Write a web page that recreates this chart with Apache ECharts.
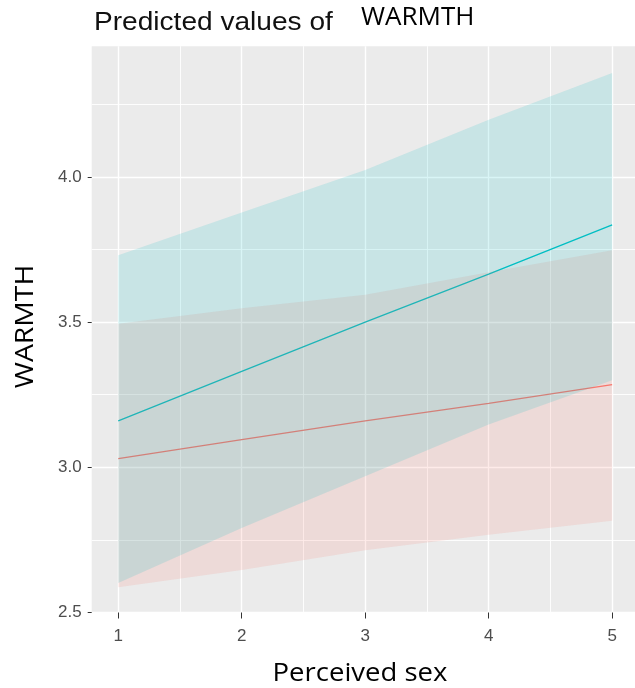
<!DOCTYPE html>
<html>
<head>
<meta charset="utf-8">
<script src="https://cdn.jsdelivr.net/npm/echarts@6/dist/echarts.min.js"></script>
<style>
  html, body { margin: 0; padding: 0; background: #ffffff; }
  #chart { width: 635px; height: 688px; }
</style>
</head>
<body>
<div id="chart"></div>
<script>
// Data
const xValues = [1, 2, 3, 4, 5];

const redFit  = [3.03, 3.095, 3.16, 3.22, 3.285];
const redLow  = [2.587, 2.646, 2.714, 2.768, 2.816];
const redHigh = [3.494, 3.548, 3.594, 3.672, 3.747];

const tealFit  = [3.16, 3.33, 3.50, 3.665, 3.835];
const tealLow  = [2.602, 2.791, 2.969, 3.147, 3.30];
const tealHigh = [3.73, 3.877, 4.024, 4.197, 4.358];

const xTickLabels = [1, 2, 3, 4, 5];
const xMinorBreaks = [1.5, 2.5, 3.5, 4.5];
const yTickLabels = [2.5, 3.0, 3.5, 4.0];
const yMinorBreaks = [2.75, 3.25, 3.75, 4.25];

const chart = echarts.init(document.getElementById('chart'), null, { renderer: 'canvas' });

const X_MIN = 0.785, X_MAX = 5.185;
const Y_MIN = 2.5, Y_MAX = 4.45;

function ribbon(name, low, high, fill, z) {
  return {
    type: 'custom',
    name: name,
    z: z,
    xAxisIndex: 0,
    yAxisIndex: 0,
    data: xValues.map((x, i) => [x, low[i], high[i]]),
    encode: { x: 0, y: [1, 2] },
    silent: true,
    renderItem: function (params, api) {
      if (params.dataIndex !== 0) return null;
      const pts = [];
      for (let i = 0; i < xValues.length; i++) pts.push(api.coord([xValues[i], high[i]]));
      for (let i = xValues.length - 1; i >= 0; i--) pts.push(api.coord([xValues[i], low[i]]));
      return { type: 'polygon', shape: { points: pts }, style: { fill: fill, stroke: null } };
    }
  };
}

function fitLine(name, vals, color, z) {
  return {
    type: 'line',
    name: name,
    z: z,
    xAxisIndex: 0,
    yAxisIndex: 0,
    data: xValues.map((x, i) => [x, vals[i]]),
    showSymbol: false,
    symbol: 'none',
    silent: true,
    lineStyle: { color: color, width: 1.3 },
    itemStyle: { color: color },
    animation: false
  };
}

const tickFont = { fontFamily: 'Liberation Sans', fontSize: 17, color: '#4D4D4D' };

const option = {
  animation: false,
  backgroundColor: '#ffffff',
  grid: {
    left: 91.7, right: 0, top: 46.2, bottom: 75.5,
    show: true, backgroundColor: '#EBEBEB', borderWidth: 0, containLabel: false
  },
  xAxis: [
    {
      type: 'value', min: X_MIN, max: X_MAX, gridIndex: 0, position: 'bottom',
      axisLine: { show: false },
      axisTick: { show: true, customValues: xTickLabels, length: 6, lineStyle: { color: '#333333', width: 1 } },
      axisLabel: Object.assign({ show: true, customValues: xTickLabels, margin: 15, formatter: v => String(v) }, tickFont),
      splitLine: { show: true, lineStyle: { color: '#ffffff', width: 1.4 } },
      z: 1
    },
    {
      type: 'value', min: X_MIN, max: X_MAX, gridIndex: 0, position: 'bottom',
      axisLine: { show: false },
      axisTick: { show: false, customValues: xMinorBreaks },
      axisLabel: { show: false, customValues: xMinorBreaks },
      splitLine: { show: true, lineStyle: { color: '#ffffff', width: 0.9 } },
      z: 0
    }
  ],
  yAxis: [
    {
      type: 'value', min: Y_MIN, max: Y_MAX, gridIndex: 0, position: 'left',
      axisLine: { show: false },
      axisTick: { show: true, customValues: yTickLabels, length: 4, lineStyle: { color: '#333333', width: 1 } },
      axisLabel: Object.assign({ show: true, customValues: yTickLabels, margin: 10, formatter: v => v.toFixed(1) }, tickFont),
      splitLine: { show: true, lineStyle: { color: '#ffffff', width: 1.4 } },
      z: 1
    },
    {
      type: 'value', min: Y_MIN, max: Y_MAX, gridIndex: 0, position: 'left',
      axisLine: { show: false },
      axisTick: { show: false, customValues: yMinorBreaks },
      axisLabel: { show: false, customValues: yMinorBreaks },
      splitLine: { show: true, lineStyle: { color: '#ffffff', width: 0.9 } },
      z: 0
    }
  ],
  series: [
    fitLine('Group 1', redFit, '#F8766D', 2),
    fitLine('Group 2', tealFit, '#00BFC4', 2),
    ribbon('Group 1 CI', redLow, redHigh, 'rgba(248,118,109,0.15)', 3),
    ribbon('Group 2 CI', tealLow, tealHigh, 'rgba(0,191,196,0.15)', 4)
  ],
  graphic: [
    {
      type: 'text', x: 94, y: 22.8, scaleX: 1.08, silent: true,
      style: { text: 'Predicted values of', x: 0, y: 0, fill: '#111111',
        font: '26px "Liberation Sans"', align: 'left', verticalAlign: 'middle',
        textAlign: 'left', textVerticalAlign: 'middle' }
    },
    {
      type: 'text', x: 361, y: 17.5, silent: true,
      style: { text: 'WARMTH', x: 0, y: 0, fill: '#000000',
        font: '26px "Open Sans"', align: 'left', verticalAlign: 'middle',
        textAlign: 'left', textVerticalAlign: 'middle' }
    },
    {
      type: 'text', x: 26, y: 326.5, rotation: Math.PI / 2, scaleX: 1.09, silent: true,
      style: { text: 'WARMTH', x: 0, y: 0, fill: '#000000',
        font: '26px "Open Sans"', align: 'center', verticalAlign: 'middle',
        textAlign: 'center', textVerticalAlign: 'middle' }
    },
    {
      type: 'text', x: 360, y: 674, scaleX: 1.1, silent: true,
      style: { text: 'Perceived sex', x: 0, y: 0, fill: '#000000',
        font: '25px "Open Sans"', align: 'center', verticalAlign: 'middle',
        textAlign: 'center', textVerticalAlign: 'middle' }
    }
  ]
};

chart.setOption(option);
</script>
</body>
</html>
